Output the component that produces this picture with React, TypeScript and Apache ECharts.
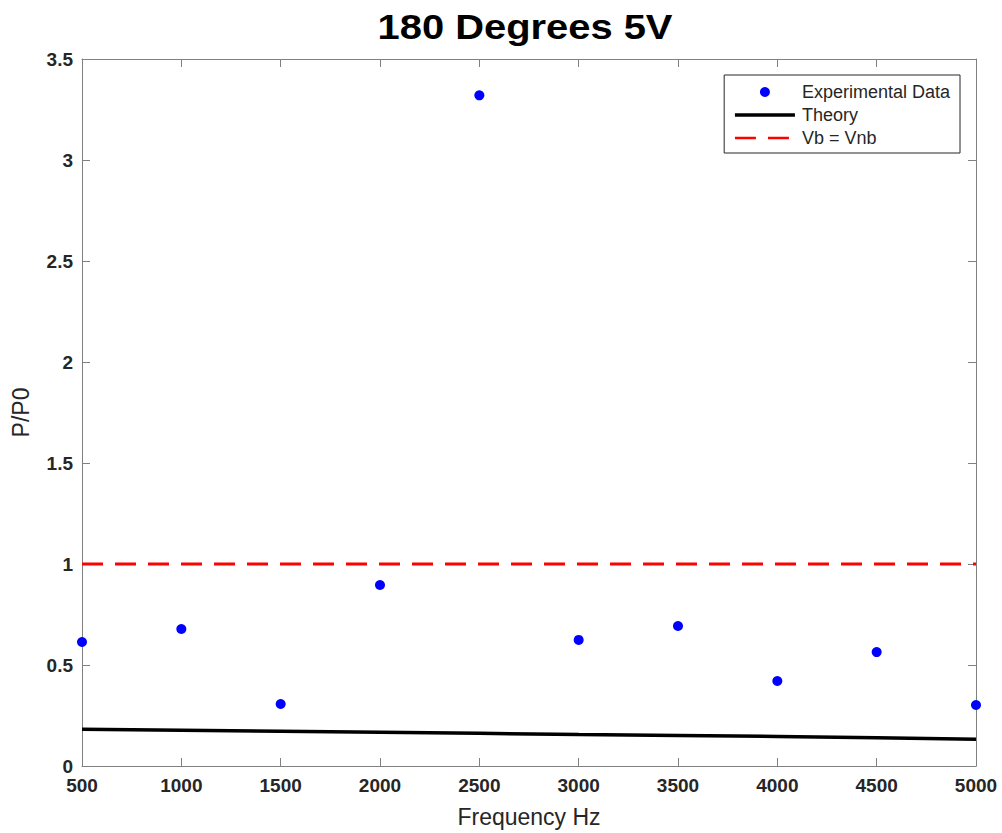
import React, { useEffect, useRef } from "react";
import * as echarts from "echarts";

const frequencies = [500, 1000, 1500, 2000, 2500, 3000, 3500, 4000, 4500, 5000];
const experimental = [0.614, 0.678, 0.307, 0.896, 3.32, 0.624, 0.693, 0.421, 0.564, 0.302];
const theory = [0.182, 0.177, 0.172, 0.167, 0.162, 0.156, 0.151, 0.146, 0.14, 0.133];
const ratioLineX = [500, 5000];
const ratioLineY = [1, 1];
const titleText = "180 Degrees 5V";

const FONT = "Liberation Sans, Arial, Helvetica, sans-serif";
const AXIS_COLOR = "#808080";
const TEXT_COLOR = "#262626";

export default function App() {
  const ref = useRef<HTMLDivElement>(null);
  useEffect(() => {
    if (!ref.current) return;
    const chart = echarts.init(ref.current, undefined, { renderer: "svg" });
    const axisCommon = {
      axisLine: { show: true, onZero: false, lineStyle: { color: AXIS_COLOR, width: 1 } },
      axisTick: { show: true, inside: true, length: 8, lineStyle: { color: AXIS_COLOR } },
      splitLine: { show: false },
    };
    chart.setOption({
      animation: false,
      backgroundColor: "#ffffff",
      textStyle: { fontFamily: FONT },
      graphic: [
        {
          type: "text",
          x: 525,
          y: 27,
          scaleX: 1.14,
          style: {
            text: titleText,
            x: 0,
            y: 0,
            align: "center",
            verticalAlign: "middle",
            fontFamily: FONT,
            fontSize: 35,
            fontWeight: "bold",
            fill: "#000000",
          },
        },
      ],
      legend: {
        orient: "vertical",
        right: 42,
        top: 75,
        padding: [8, 10, 6, 9],
        itemGap: 5,
        itemWidth: 60,
        itemHeight: 10,
        borderColor: "#262626",
        borderWidth: 1,
        backgroundColor: "#ffffff",
        textStyle: { fontFamily: FONT, fontSize: 18, color: TEXT_COLOR, padding: [0, 0, 0, 2] },
        data: [
          { name: "Experimental Data" },
          { name: "Theory", itemStyle: { opacity: 0 }, lineStyle: { width: 3.5 } },
          { name: "Vb = Vnb", itemStyle: { opacity: 0 }, lineStyle: { width: 2.5 } },
        ],
      },
      grid: { left: 82, right: 26, top: 59, bottom: 66, containLabel: false },
      xAxis: [
        {
          type: "value",
          min: 500,
          max: 5000,
          interval: 500,
          name: "Frequency Hz",
          nameLocation: "middle",
          nameGap: 39,
          nameTextStyle: { fontFamily: FONT, fontSize: 23, color: TEXT_COLOR },
          axisLabel: {
            fontFamily: FONT,
            fontSize: 19,
            fontWeight: "bold",
            color: TEXT_COLOR,
            margin: 10,
            formatter: (v: number) => String(v),
          },
          ...axisCommon,
        },
        {
          type: "value",
          position: "top",
          min: 500,
          max: 5000,
          interval: 500,
          axisLabel: { show: false },
          ...axisCommon,
        },
      ],
      yAxis: [
        {
          type: "value",
          min: 0,
          max: 3.5,
          interval: 0.5,
          name: "P/P0",
          nameLocation: "middle",
          nameGap: 50,
          nameTextStyle: { fontFamily: FONT, fontSize: 23, color: TEXT_COLOR },
          axisLabel: {
            fontFamily: FONT,
            fontSize: 19,
            fontWeight: "bold",
            color: TEXT_COLOR,
            margin: 9,
            formatter: (v: number) => String(v),
          },
          ...axisCommon,
        },
        {
          type: "value",
          position: "right",
          min: 0,
          max: 3.5,
          interval: 0.5,
          axisLabel: { show: false },
          ...axisCommon,
        },
      ],
      series: [
        {
          name: "Experimental Data",
          type: "scatter",
          symbol: "circle",
          symbolSize: 10,
          itemStyle: { color: "#0000ff", opacity: 1 },
          data: frequencies.map((f, i) => [f, experimental[i]]),
          z: 5,
        },
        {
          name: "Theory",
          type: "line",
          showSymbol: false,
          symbol: "none",
          lineStyle: { color: "#000000", width: 3.5 },
          itemStyle: { color: "#000000" },
          data: frequencies.map((f, i) => [f, theory[i]]),
        },
        {
          name: "Vb = Vnb",
          type: "line",
          showSymbol: false,
          symbol: "none",
          lineStyle: { color: "#ff0000", width: 3, type: [21, 12] },
          itemStyle: { color: "#ff0000" },
          data: ratioLineX.map((x, i) => [x, ratioLineY[i]]),
        },
      ],
    });
    return () => chart.dispose();
  }, []);
  return (
    <div
      ref={ref}
      style={{ position: "absolute", left: 0, top: 0, width: 1002, height: 833 }}
    />
  );
}
